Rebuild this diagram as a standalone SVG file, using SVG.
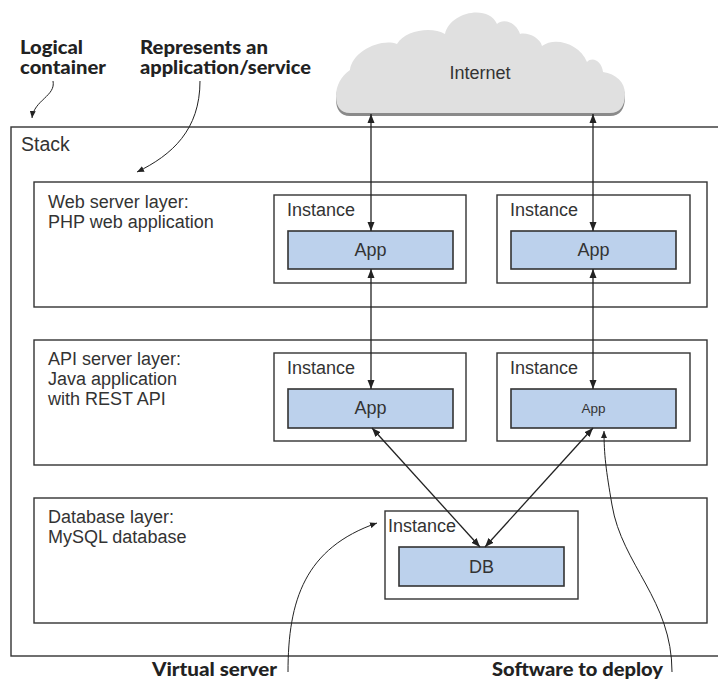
<svg xmlns="http://www.w3.org/2000/svg" width="718" height="682" viewBox="0 0 718 682">
<style>
.box{fill:#fff;stroke:#333;stroke-width:1.4}
.app{fill:#bcd1ec;stroke:#333;stroke-width:1.6}
.t{font-family:"Liberation Sans",Arial,sans-serif;font-size:18px;fill:#333}
.c{text-anchor:middle}
.b{font-family:Lato,"Liberation Sans",sans-serif;font-weight:900;font-size:18.5px;fill:#222}
.con{stroke:#222;stroke-width:1.3;fill:none;marker-start:url(#ah);marker-end:url(#ah)}
.ann{stroke:#222;stroke-width:1;fill:none;marker-end:url(#sa)}
</style>
<defs>
<marker id="ah" markerUnits="userSpaceOnUse" markerWidth="10" markerHeight="8" refX="9" refY="4" orient="auto-start-reverse"><path d="M0,0.5 L9,4 L0,7.5 Z" fill="#222"/></marker>
<marker id="sa" markerUnits="userSpaceOnUse" markerWidth="8" markerHeight="6" refX="7" refY="3" orient="auto"><path d="M0,0 L7,3 L0,6 Z" fill="#222"/></marker>
</defs>
<rect width="718" height="682" fill="#fff"/>

<g id="stack">
<rect class="box" x="11" y="127" width="720" height="529"/>
<text class="t" x="21" y="151" style="font-size:19.5px">Stack</text>
</g>

<g id="internet">
<path transform="translate(0,3)" fill="#8a8a8a" d="M350,113 C340,113 336,106 336,96 C336,86 341,76 350,70 C352,52 380,38 397,44 C405,30 432,26 445,34 C450,12 488,4 497,24 C503,18 516,22 520,34 C528,32 540,38 542,46 C555,36 580,44 587,62 C593,56 602,62 603,72 C616,74 625,82 625,94 C625,106 620,113 610,113 Z"/>
<path fill="#e0e0e0" d="M350,113 C340,113 336,106 336,96 C336,86 341,76 350,70 C352,52 380,38 397,44 C405,30 432,26 445,34 C450,12 488,4 497,24 C503,18 516,22 520,34 C528,32 540,38 542,46 C555,36 580,44 587,62 C593,56 602,62 603,72 C616,74 625,82 625,94 C625,106 620,113 610,113 Z"/>
<text class="t c" x="480" y="79">Internet</text>
</g>

<g id="web-layer">
<rect class="box" x="34" y="182" width="673" height="125"/>
<text class="t" x="48" y="208">Web server layer:</text>
<text class="t" x="48" y="228">PHP web application</text>
</g>
<g id="web-instance-1">
<rect class="box" x="274" y="195" width="192" height="88"/>
<text class="t" x="287" y="216">Instance</text>
<rect class="app" x="288" y="231" width="165" height="38"/>
<text class="t c" x="370.5" y="256">App</text>
</g>
<g id="web-instance-2">
<rect class="box" x="497" y="195" width="193" height="88"/>
<text class="t" x="510" y="216">Instance</text>
<rect class="app" x="511" y="231" width="165" height="38"/>
<text class="t c" x="593.5" y="256">App</text>
</g>

<g id="api-layer">
<rect class="box" x="34" y="340" width="673" height="125"/>
<text class="t" x="48" y="365">API server layer:</text>
<text class="t" x="48" y="385">Java application</text>
<text class="t" x="48" y="405">with REST API</text>
</g>
<g id="api-instance-1">
<rect class="box" x="274" y="353" width="192" height="88"/>
<text class="t" x="287" y="374">Instance</text>
<rect class="app" x="288" y="389" width="165" height="39"/>
<text class="t c" x="370.5" y="414">App</text>
</g>
<g id="api-instance-2">
<rect class="box" x="497" y="353" width="193" height="88"/>
<text class="t" x="510" y="374">Instance</text>
<rect class="app" x="511" y="389" width="165" height="39"/>
<text class="t c" x="593.5" y="413" style="font-size:13.5px">App</text>
</g>

<g id="db-layer">
<rect class="box" x="34" y="498" width="673" height="125"/>
<text class="t" x="48" y="523">Database layer:</text>
<text class="t" x="48" y="543">MySQL database</text>
</g>
<g id="db-instance">
<rect class="box" x="385" y="511" width="193" height="88"/>
<text class="t" x="388" y="532">Instance</text>
<rect class="app" x="399" y="547" width="165" height="39"/>
<text class="t c" x="481.5" y="573">DB</text>
</g>

<g id="connectors">
<line class="con" x1="371" y1="114" x2="371" y2="231"/>
<line class="con" x1="593" y1="114" x2="593" y2="231"/>
<line class="con" x1="371" y1="269" x2="371" y2="389"/>
<line class="con" x1="593" y1="269" x2="593" y2="389"/>
<line class="con" x1="372" y1="428" x2="480" y2="547"/>
<line class="con" x1="593" y1="428" x2="485" y2="547"/>
</g>

<g id="annotations">
<path class="ann" d="M53,81 C56,96 34,100 32,118"/>
<path class="ann" d="M200,81 C200,130 172,155 137,172"/>
<path class="ann" d="M288,672 C288,600 305,548 377,523"/>
<path class="ann" d="M672,672 C672,600 622,565 612,505 C606,470 604,455 604,431"/>
<text class="b" x="20" y="54" textLength="63" lengthAdjust="spacingAndGlyphs">Logical</text>
<text class="b" x="20" y="74" textLength="86" lengthAdjust="spacingAndGlyphs">container</text>
<text class="b" x="140" y="54" textLength="128" lengthAdjust="spacingAndGlyphs">Represents an</text>
<text class="b" x="140" y="74" textLength="171" lengthAdjust="spacingAndGlyphs">application/service</text>
<text class="b" x="152" y="676" textLength="125" lengthAdjust="spacingAndGlyphs">Virtual server</text>
<text class="b" x="492" y="676" textLength="171" lengthAdjust="spacingAndGlyphs">Software to deploy</text>
</g>
</svg>
